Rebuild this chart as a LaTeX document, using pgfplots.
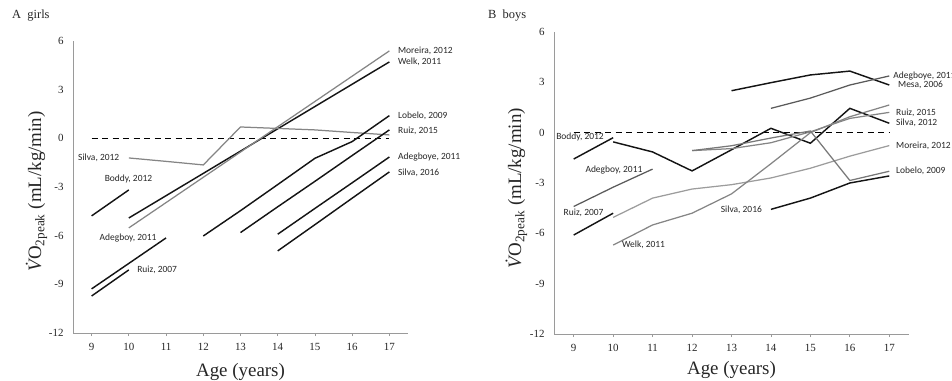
\documentclass[border=0pt]{standalone}
\usepackage{fontspec}
\setmainfont{Liberation Serif}
\newfontfamily\calib{Carlito}
\usepackage{pgfplots}
\pgfplotsset{compat=1.18}

\definecolor{axisgray}{HTML}{9A9A9A}
\definecolor{gmid}{HTML}{858585}
\definecolor{glight}{HTML}{9C9C9C}
\definecolor{gdark}{HTML}{5A5A5A}
\definecolor{txt}{HTML}{262626}

\tikzset{
  blk/.style={draw=black!92, line width=1.45pt},
  gry/.style={draw=gmid, line width=1.25pt},
  zero/.style={draw=black, line width=1.6pt, dash pattern=on 6bp off 4.5bp},
  lab/.style={font=\calib\fontsize{9.5}{11}\selectfont, text=txt, inner sep=0pt},
}
\pgfplotsset{
  panel/.style={
    scale only axis, clip=false,
    xmin=8.5, xmax=17.5, ymin=-12, ymax=6,
    axis x line*=bottom, axis y line*=left,
    axis line style={draw=axisgray, line width=0.9pt},
    xtick={9,...,17}, xticklabels={9,10,11,12,13,14,15,16,17},
    ytick={-12,-9,-6,-3,0,3,6}, yticklabels={-12,-9,-6,-3,0,3,6},
    major tick length=3bp, tick align=outside,
    xtick style={draw=axisgray, line width=0.8pt},
    ytick style={draw=none},
    tick label style={font=\fontsize{11}{12}\selectfont, text=txt},
    xticklabel style={yshift=-3.5bp},
    yticklabel style={xshift=-3bp},
    xlabel={Age (years)},
    ylabel={{\itshape\.{V}}O\textsubscript{2peak} (mL/kg/min)},
    label style={font=\fontsize{19}{22}\selectfont, text=txt},
  },
}

\begin{document}
\begin{tikzpicture}

% ---------------- Panel A: girls ----------------
\begin{axis}[panel, width=335bp, height=292bp, at={(73bp,48bp)}, anchor=south west,
  xlabel style={at={(axis description cs:0.5,-0.1336)}, anchor=center},
  ylabel style={at={(axis description cs:-0.109,0.485)}, anchor=center}]
\addplot[zero] coordinates {(9,0) (17,0)};
% Boddy 2012
\addplot[blk] coordinates {(9,-4.78) (10,-3.18)};
% Welk 2011
\addplot[blk] coordinates {(10,-4.91) (17,4.71)};
% Moreira 2012
\addplot[gry] coordinates {(10,-5.52) (17,5.39)};
% Silva 2012
\addplot[gry] coordinates {(10,-1.21) (11,-1.42) (12,-1.64) (13,0.70) (14,0.61) (15,0.52) (16,0.36) (17,0.21)};
% Adegboy 2011
\addplot[blk] coordinates {(9,-9.28) (10,-7.71) (11,-6.14)};
% Ruiz 2007
\addplot[blk] coordinates {(9,-9.72) (10,-8.11)};
% Lobelo 2009
\addplot[blk] coordinates {(12,-6.02) (13,-4.46) (14,-2.85) (15,-1.23) (16,-0.20) (17,1.40)};
% Ruiz 2015
\addplot[blk] coordinates {(13,-5.81) (14,-4.22) (15,-2.65) (16,-1.06) (17,0.52)};
% Adegboye 2011
\addplot[blk] coordinates {(14,-5.91) (15,-4.32) (16,-2.74) (17,-1.15)};
% Silva 2016
\addplot[blk] coordinates {(14,-6.94) (15,-5.32) (16,-3.69) (17,-2.07)};

\node[lab] at (axis cs:9.19,-1.21) {Silva, 2012};
\node[lab] at (axis cs:9.99,-2.50) {Boddy, 2012};
\node[lab] at (axis cs:9.98,-6.14) {Adegboy, 2011};
\node[lab] at (axis cs:10.76,-8.11) {Ruiz, 2007};
\node[lab, anchor=west] at (axis cs:17.23,5.39) {Moreira, 2012};
\node[lab, anchor=west] at (axis cs:17.23,4.71) {Welk, 2011};
\node[lab, anchor=west] at (axis cs:17.23,1.38) {Lobelo, 2009};
\node[lab, anchor=west] at (axis cs:17.23,0.46) {Ruiz, 2015};
\node[lab, anchor=west] at (axis cs:17.23,-1.15) {Adegboye, 2011};
\node[lab, anchor=west] at (axis cs:17.23,-2.13) {Silva, 2016};
\end{axis}

% ---------------- Panel B: boys ----------------
\begin{axis}[panel, width=355bp, height=302bp, at={(554bp,47bp)}, anchor=south west,
  xlabel style={at={(axis description cs:0.5,-0.119)}, anchor=center},
  ylabel style={at={(axis description cs:-0.106,0.483)}, anchor=center}]
\addplot[zero] coordinates {(9,0) (17,0)};
% Boddy 2012
\addplot[blk] coordinates {(9,-1.57) (10,-0.30)};
% Silva 2012
\addplot[blk] coordinates {(10,-0.55) (11,-1.15) (12,-2.28) (13,-1.02) (14,0.26) (15,-0.63) (16,1.45) (17,0.56)};
% Mesa 2006
\addplot[blk] coordinates {(13,2.50) (14,2.98) (15,3.44) (16,3.67) (17,2.84)};
% Adegboye 2011
\addplot[draw=gdark, line width=1.25pt] coordinates {(14,1.45) (15,2.06) (16,2.84) (17,3.38)};
% Adegboy 2011 (left)
\addplot[draw=gdark, line width=1.25pt] coordinates {(9,-4.40) (10,-3.25) (11,-2.17)};
% Ruiz 2007
\addplot[blk] coordinates {(9,-6.10) (10,-4.80)};
% Moreira 2012
\addplot[draw=glight, line width=1.25pt] coordinates {(10,-5.05) (11,-3.90) (12,-3.36) (13,-3.10) (14,-2.70) (15,-2.12) (16,-1.40) (17,-0.77)};
% Welk 2011
\addplot[gry] coordinates {(10,-6.70) (11,-5.50) (12,-4.80) (13,-3.65) (14,-1.85) (15,0.00) (16,0.95) (17,1.65)};
% Silva 2016
\addplot[blk] coordinates {(14,-4.57) (15,-3.90) (16,-3.00) (17,-2.58)};
% Ruiz 2015
\addplot[gry] coordinates {(12,-1.07) (13,-0.95) (14,-0.60) (15,0.05) (16,0.85) (17,1.21)};
% Lobelo 2009
\addplot[draw=gmid!90!black, line width=1.25pt] coordinates {(12,-1.07) (13,-0.78) (14,-0.32) (15,0.10) (16,-2.85) (17,-2.30)};

\node[lab] at (axis cs:9.16,-0.26) {Boddy, 2012};
\node[lab] at (axis cs:10.02,-2.22) {Adegboy, 2011};
\node[lab] at (axis cs:9.25,-4.79) {Ruiz, 2007};
\node[lab] at (axis cs:10.77,-6.69) {Welk, 2011};
\node[lab] at (axis cs:13.25,-4.61) {Silva, 2016};
\node[lab, anchor=west] at (axis cs:17.10,3.38) {Adegboye, 2011};
\node[lab, anchor=west] at (axis cs:17.22,2.84) {Mesa, 2006};
\node[lab, anchor=west] at (axis cs:17.17,1.21) {Ruiz, 2015};
\node[lab, anchor=west] at (axis cs:17.17,0.56) {Silva, 2012};
\node[lab, anchor=west] at (axis cs:17.17,-0.77) {Moreira, 2012};
\node[lab, anchor=west] at (axis cs:17.17,-2.26) {Lobelo, 2009};
\end{axis}

\node[anchor=west, inner sep=0pt, font=\fontsize{12.5}{14}\selectfont, text=txt] at (12bp,365bp) {A\ \ girls};
\node[anchor=west, inner sep=0pt, font=\fontsize{12.5}{14}\selectfont, text=txt] at (488bp,365bp) {B\ \ boys};

\pgfresetboundingbox
\path[use as bounding box] (0,0) rectangle (952bp,381bp);
\end{tikzpicture}
\end{document}
